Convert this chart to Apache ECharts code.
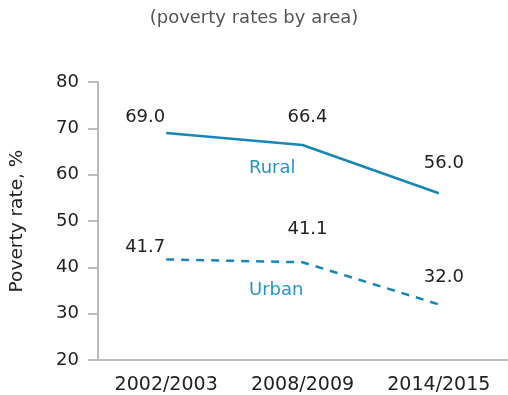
<!DOCTYPE html>
<html>
<head>
<meta charset="utf-8">
<script src="https://cdn.jsdelivr.net/npm/echarts@6/dist/echarts.min.js"></script>
<style>
  html, body { margin: 0; padding: 0; background: #fff; }
  #chart { width: 508px; height: 395px; }
</style>
</head>
<body>
<div id="chart"></div>
<script>
// Poverty rates by area, three survey rounds
const periods = ['2002/2003', '2008/2009', '2014/2015'];
const rural = [69.0, 66.4, 56.0];
const urban = [41.7, 41.1, 32.0];
const yTicks = [20, 30, 40, 50, 60, 70, 80];

// label placement per point (offset from the marker)
const ruralLabelOffsets = [[-21, -2], [5, -14], [5, -16]];
const urbanLabelOffsets = [[-21, 2], [5, -19], [5, -13]];

const FONT = 'DejaVu Sans';
const LINE = '#1787b8';
const SERIES_TEXT = '#2496c8';

function withLabels(values, offsets) {
  return values.map((v, i) => ({
    value: v,
    label: { offset: offsets[i] }
  }));
}

const labelStyle = {
  show: true,
  position: 'top',
  distance: 5,
  formatter: p => p.value.toFixed(1),
  fontFamily: FONT, fontSize: 18, color: '#222'
};

const chart = echarts.init(document.getElementById('chart'), null, { renderer: 'canvas' });
chart.setOption({
  animation: false,
  title: {
    text: '(poverty rates by area)',
    left: 'center',
    top: 4,
    textStyle: { fontFamily: FONT, fontSize: 18, fontWeight: 'normal', color: '#555' }
  },
  grid: { left: 95, right: 1, top: 82, bottom: 34 },
  xAxis: {
    type: 'category',
    data: periods,
    boundaryGap: true,
    axisLine: { lineStyle: { color: '#b9bcbe', width: 2 } },
    axisTick: { show: false },
    axisLabel: { fontFamily: FONT, fontSize: 19, color: '#222', margin: 16 }
  },
  yAxis: {
    type: 'value',
    min: yTicks[0],
    max: yTicks[yTicks.length - 1],
    interval: 10,
    name: 'Poverty rate, %',
    nameLocation: 'middle',
    nameGap: 71,
    nameTextStyle: { fontFamily: FONT, fontSize: 18.5, color: '#222' },
    axisLine: { show: true, lineStyle: { color: '#b9bcbe', width: 2 } },
    axisTick: { show: true, length: 10, lineStyle: { color: '#b9bcbe', width: 2 } },
    splitLine: { show: false },
    axisLabel: { fontFamily: FONT, fontSize: 18, color: '#222', margin: 19 }
  },
  series: [
    {
      name: 'Rural',
      type: 'line',
      data: withLabels(rural, ruralLabelOffsets),
      symbol: 'circle',
      symbolSize: 0,
      showSymbol: true,
      lineStyle: { color: LINE, width: 2.5 },
      itemStyle: { color: LINE },
      label: labelStyle
    },
    {
      name: 'Urban',
      type: 'line',
      data: withLabels(urban, urbanLabelOffsets),
      symbol: 'circle',
      symbolSize: 0,
      showSymbol: true,
      lineStyle: { color: LINE, width: 2.5, type: [8, 7] },
      itemStyle: { color: LINE },
      label: labelStyle
    }
  ],
  graphic: [
    {
      type: 'text', left: 249, top: 159,
      style: { text: 'Rural', fontFamily: FONT, fontSize: 18, fill: SERIES_TEXT }
    },
    {
      type: 'text', left: 249, top: 281,
      style: { text: 'Urban', fontFamily: FONT, fontSize: 18, fill: SERIES_TEXT }
    }
  ]
});
</script>
</body>
</html>
